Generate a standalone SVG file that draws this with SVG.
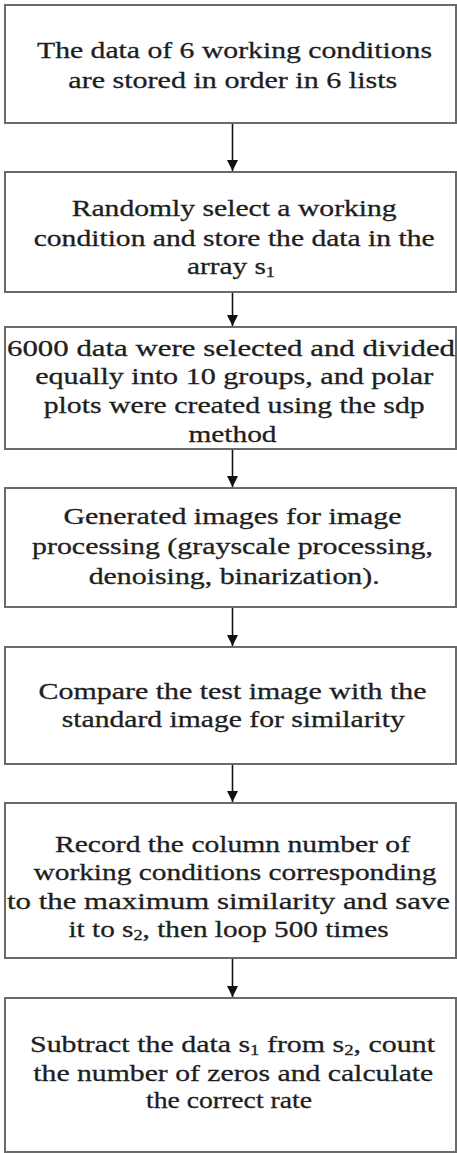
<svg xmlns="http://www.w3.org/2000/svg" width="457" height="1153" viewBox="0 0 457 1153">
<defs>
<style>
.box{fill:#fff;stroke:#6a6a6a;stroke-width:2}
.t{font-family:"Liberation Serif","Times New Roman",serif;font-size:24px;fill:#1e1e1e;stroke:#1e1e1e;stroke-width:0.3;text-anchor:middle}
.sub{font-size:15px}
.conn{stroke:#111;stroke-width:1.6;fill:none}
</style>
<marker id="ah" viewBox="0 0 10 10" refX="10" refY="5" markerWidth="7" markerHeight="7" markerUnits="strokeWidth" orient="auto">
<path d="M0,0 L10,5 L0,10 Z" fill="#111"/>
</marker>
</defs>
<rect width="457" height="1153" fill="#fff"/>
<g id="connectors">
<line class="conn" x1="232.5" y1="124" x2="232.5" y2="171" marker-end="url(#ah)"/>
<line class="conn" x1="232.5" y1="293" x2="232.5" y2="326" marker-end="url(#ah)"/>
<line class="conn" x1="232.5" y1="450" x2="232.5" y2="487" marker-end="url(#ah)"/>
<line class="conn" x1="232.5" y1="608" x2="232.5" y2="646" marker-end="url(#ah)"/>
<line class="conn" x1="232.5" y1="765" x2="232.5" y2="802" marker-end="url(#ah)"/>
<line class="conn" x1="232.5" y1="959" x2="232.5" y2="997" marker-end="url(#ah)"/>
</g>
<g id="node1">
<rect class="box" x="5" y="5" width="451" height="118"/>
<text class="t" x="234.5" y="58" textLength="395" lengthAdjust="spacingAndGlyphs">The data of 6 working conditions</text>
<text class="t" x="232.8" y="88" textLength="329" lengthAdjust="spacingAndGlyphs">are stored in order in 6 lists</text>
</g>
<g id="node2">
<rect class="box" x="5" y="172" width="451" height="120"/>
<text class="t" x="234.2" y="216" textLength="325" lengthAdjust="spacingAndGlyphs">Randomly select a working</text>
<text class="t" x="234.2" y="245.5" textLength="401" lengthAdjust="spacingAndGlyphs">condition and store the data in the</text>
<text class="t" x="231" y="274" textLength="88" lengthAdjust="spacingAndGlyphs">array s<tspan class="sub" dy="3">1</tspan></text>
</g>
<g id="node3">
<rect class="box" x="5" y="327" width="451" height="122"/>
<text class="t" x="231" y="356" textLength="448" lengthAdjust="spacingAndGlyphs">6000 data were selected and divided</text>
<text class="t" x="234.2" y="384" textLength="398" lengthAdjust="spacingAndGlyphs">equally into 10 groups, and polar</text>
<text class="t" x="234.2" y="412.5" textLength="381" lengthAdjust="spacingAndGlyphs">plots were created using the sdp</text>
<text class="t" x="232.5" y="442" textLength="88" lengthAdjust="spacingAndGlyphs">method</text>
</g>
<g id="node4">
<rect class="box" x="5" y="488" width="451" height="119"/>
<text class="t" x="232.5" y="524" textLength="338" lengthAdjust="spacingAndGlyphs">Generated images for image</text>
<text class="t" x="232.5" y="553.5" textLength="401" lengthAdjust="spacingAndGlyphs">processing (grayscale processing,</text>
<text class="t" x="234.2" y="584" textLength="291" lengthAdjust="spacingAndGlyphs">denoising, binarization).</text>
</g>
<g id="node5">
<rect class="box" x="5" y="647" width="451" height="117"/>
<text class="t" x="232.5" y="698.5" textLength="388" lengthAdjust="spacingAndGlyphs">Compare the test image with the</text>
<text class="t" x="233.3" y="727" textLength="343" lengthAdjust="spacingAndGlyphs">standard image for similarity</text>
</g>
<g id="node6">
<rect class="box" x="5" y="803" width="451" height="155"/>
<text class="t" x="232.5" y="852" textLength="355" lengthAdjust="spacingAndGlyphs">Record the column number of</text>
<text class="t" x="235" y="880" textLength="403" lengthAdjust="spacingAndGlyphs">working conditions corresponding</text>
<text class="t" x="228.5" y="908.5" textLength="443" lengthAdjust="spacingAndGlyphs">to the maximum similarity and save</text>
<text class="t" x="228.5" y="937" textLength="320" lengthAdjust="spacingAndGlyphs">it to s<tspan class="sub" dy="3">2</tspan><tspan dy="-3">, then loop 500 times</tspan></text>
</g>
<g id="node7">
<rect class="box" x="5" y="998" width="451" height="154"/>
<text class="t" x="232.5" y="1052" textLength="405" lengthAdjust="spacingAndGlyphs">Subtract the data s<tspan class="sub" dy="3">1</tspan><tspan dy="-3"> from s</tspan><tspan class="sub" dy="3">2</tspan><tspan dy="-3">, count</tspan></text>
<text class="t" x="233.3" y="1080.5" textLength="400" lengthAdjust="spacingAndGlyphs">the number of zeros and calculate</text>
<text class="t" x="229" y="1108" textLength="166" lengthAdjust="spacingAndGlyphs">the correct rate</text>
</g>
</svg>
